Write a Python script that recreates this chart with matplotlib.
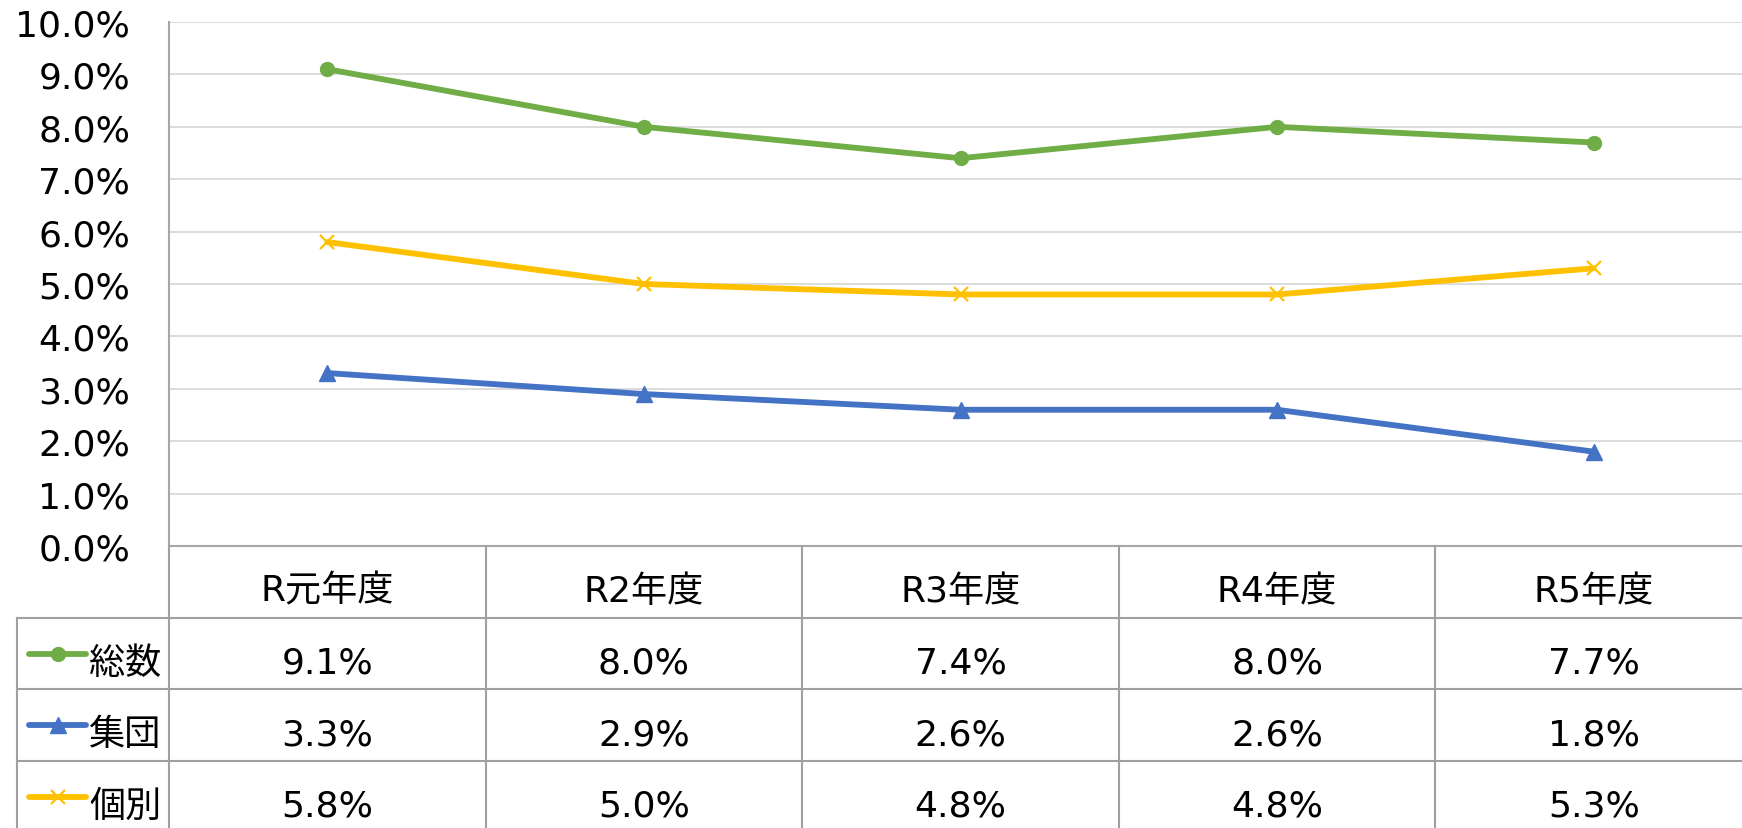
import numpy as np
import matplotlib
matplotlib.use("Agg")
import matplotlib.pyplot as plt

plt.rcParams['font.family'] = ['DejaVu Sans', 'Noto Sans CJK JP']

years = ['R元年度', 'R2年度', 'R3年度', 'R4年度', 'R5年度']
total = [9.1, 8.0, 7.4, 8.0, 7.7]
group = [3.3, 2.9, 2.6, 2.6, 1.8]
indiv = [5.8, 5.0, 4.8, 4.8, 5.3]
series_names = ['総数', '集団', '個別']

W, H = 1742, 829
fig = plt.figure(figsize=(W / 100, H / 100), dpi=100)

# pixel layout
px_left, px_right = 169, 1752
px_top, px_zero = 23, 547
row_h = 71.7
px_tab_left = 17

def fx(px):
    return px / W

def fy(py):
    return 1 - py / H

ax = fig.add_axes([fx(px_left), fy(px_zero), fx(px_right - px_left), (px_zero - px_top) / H])
x = np.arange(len(years))

styles = [
    dict(color='#70AD47', marker='o', ms=10, mew=1),
    dict(color='#4472C4', marker='^', ms=11, mew=1),
    dict(color='#FFC000', marker='x', ms=10, mew=1.6),
]
for vals, st in zip([total, group, indiv], styles):
    ax.plot(x, vals, lw=4.2, solid_capstyle='round', **st)

ax.set_xlim(-0.5, len(years) - 0.5)
ax.set_ylim(0, 10)
ax.set_yticks(np.arange(0, 11, 1))
ax.set_yticklabels([f'{v:.1f}%' for v in np.arange(0, 11, 1)], fontsize=26)
ax.tick_params(axis='y', length=0, pad=28)
ax.set_xticks([])
ax.grid(axis='y', color='#D9D9D9', lw=1.3)
ax.set_axisbelow(True)
for s in ['top', 'right']:
    ax.spines[s].set_visible(False)
ax.spines['left'].set_color('#A6A6A6')
ax.spines['left'].set_linewidth(1.5)
ax.spines['bottom'].set_color('#A6A6A6')
ax.spines['bottom'].set_linewidth(1.5)

# table below the chart
tab_bottom = px_zero + 4 * row_h
tx = fig.add_axes([fx(px_left), fy(tab_bottom), fx(px_right - px_left), 4 * row_h / H])
tx.set_xlim(-0.5, len(years) - 0.5)
tx.set_ylim(4, 0)
tx.axis('off')

col_w = (px_right - px_left) / len(years)
left_edge = -0.5 - (px_left - px_tab_left) / col_w
lc = '#A0A0A0'
for r in [1, 2, 3]:
    tx.plot([left_edge, len(years) - 0.5], [r, r], color=lc, lw=1.5, clip_on=False)
for k in range(len(years) + 1):
    tx.plot([k - 0.5, k - 0.5], [0, 4], color=lc, lw=1.5, clip_on=False)
tx.plot([left_edge, left_edge], [1, 4], color=lc, lw=1.5, clip_on=False)

base = 0.765
for i, yr in enumerate(years):
    tx.text(i, base, yr, ha='center', va='baseline', fontsize=26)

for r, (vals, name, st) in enumerate(zip([total, group, indiv], series_names, styles), start=1):
    for i, v in enumerate(vals):
        tx.text(i, r + base, f'{v:.1f}%', ha='center', va='baseline', fontsize=26)
    # legend key
    k0 = -0.5 - (px_left - 29) / col_w
    k1 = -0.5 - (px_left - 86) / col_w
    tx.plot([k0, k1], [r + 0.5, r + 0.5], color=st['color'], lw=4.2, clip_on=False,
            solid_capstyle='round')
    tx.plot([(k0 + k1) / 2], [r + 0.5], linestyle='none', clip_on=False, **st)
    tx.text(-0.5 - (px_left - 89) / col_w, r + base, name, ha='left', va='baseline',
            fontsize=26)

fig.savefig('out.png', dpi=100)
